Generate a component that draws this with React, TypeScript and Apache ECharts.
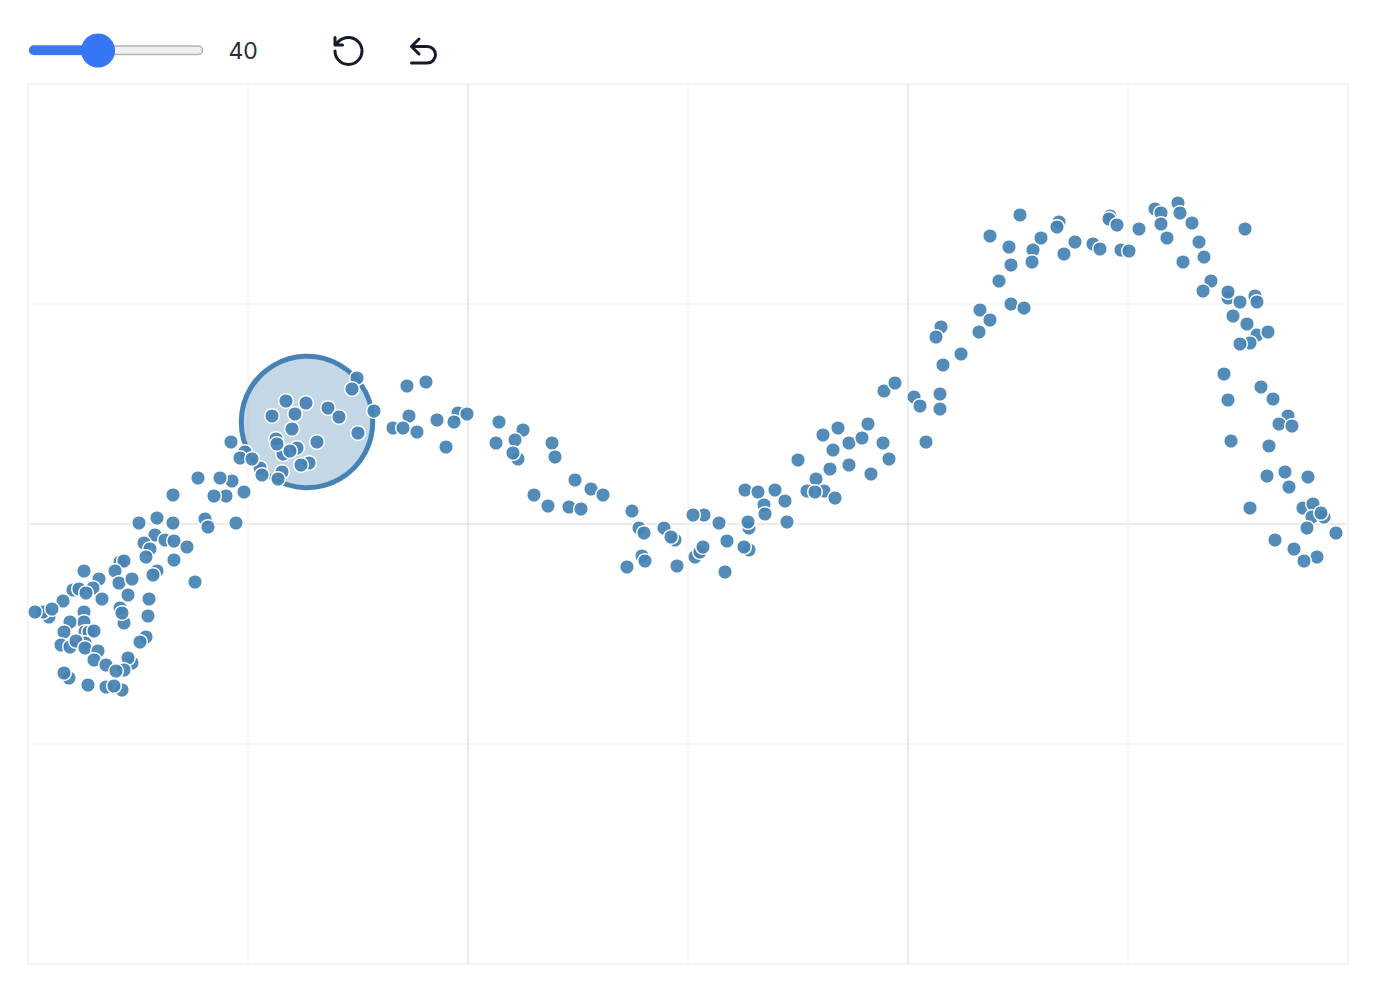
import React, { useEffect, useRef } from "react";
import * as echarts from "echarts";

const lowerLeftCloud = [
  [11.1,0.1],[12.9,0.6],[14.5,0.1],[17.7,0.5],[18.0,-0.3],[20.8,0.1],[12.7,-1.1],[11.6,-1.9],[12.2,-2.5],[11.8,-3.3],
  [13.7,-1.6],[14.6,-1.7],[15.9,-2.3],[14.6,-3.6],[16.7,-5.8],[9.2,-3.8],[9.6,-3.7],[8.7,-4.7],[12.9,-4.7],[12.5,-5.1],
  [5.6,-4.7],[7.1,-5.5],[9.1,-5.9],[10.4,-5.5],[6.5,-6.4],[4.5,-6.6],[5.1,-6.5],[5.8,-6.9],[3.5,-7.7],[7.4,-7.5],
  [10.0,-7.1],[12.1,-7.5],[2.1,-9.3],[1.5,-8.8],[0.7,-8.8],[2.4,-8.5],[5.6,-8.8],[5.6,-9.8],[4.2,-9.8],[9.2,-8.4],
  [9.6,-9.9],[9.4,-8.9],[12.0,-9.2],[3.6,-10.8],[5.7,-10.8],[6.1,-10.8],[6.6,-10.7],[11.8,-11.3],[11.2,-11.8],[3.3,-12.1],
  [4.2,-12.3],[5.7,-11.9],[4.8,-11.7],[5.7,-12.4],[7.0,-12.7],[6.6,-13.6],[7.8,-14.1],[10.4,-13.9],[10.0,-13.4],[9.6,-14.6],
  [8.8,-14.7],[4.1,-15.4],[3.6,-14.9],[6.0,-16.1],[7.8,-16.3],[9.4,-16.6],[8.6,-16.2],
];
const brushedRegion = [
  [32.9,14.6],[32.4,13.5],[34.6,11.3],[25.8,12.3],[27.8,12.1],[30.0,11.6],[31.1,10.7],[24.4,10.8],[26.7,11.0],[33.0,9.1],
  [26.4,9.5],[28.9,8.2],[24.8,8.5],[25.5,7.0],[26.9,7.6],[24.9,8.0],[26.2,7.3],[25.4,5.2],[25.0,4.5],[28.1,6.1],[27.3,5.9],
  [23.2,5.6],[23.4,4.9],[20.3,8.2],[21.7,7.2],[21.2,6.6],[22.4,6.5],[20.4,4.3],[19.2,4.6],[21.6,3.2],[19.8,2.8],
  [18.6,2.8],[17.0,4.6],[14.5,2.9],
];
const firstDescent = [
  [37.9,13.8],[39.8,14.2],[38.1,10.8],[36.5,9.6],[37.5,9.6],[38.9,9.2],[40.9,10.4],[43.0,11.1],[42.6,10.2],[43.9,11.0],
  [41.8,7.7],[47.1,10.2],[49.5,9.4],[48.7,8.4],[46.8,8.1],[49.0,6.5],[48.5,7.1],[52.4,8.1],[52.7,6.7],[54.7,4.4],
  [56.3,3.5],[57.5,2.9],[50.6,2.9],[52.0,1.8],[54.1,1.7],[55.3,1.5],
];
const valley = [
  [60.4,1.3],[61.1,-0.4],[61.6,-0.9],[63.6,-0.4],[64.7,-1.6],[64.3,-1.3],[67.6,0.9],[66.5,0.9],[69.1,0.1],[69.9,-1.7],
  [72.1,-0.4],[72.0,0.2],[72.1,-2.6],[71.6,-2.3],[69.7,-4.8],[66.7,-3.3],[67.2,-2.8],[67.5,-2.3],[61.4,-3.2],[61.7,-3.7],
  [59.9,-4.3],[64.9,-4.2],[71.7,3.4],[73.0,3.2],[74.7,3.4],[75.7,2.3],[73.6,1.9],[73.7,1.0],[75.9,0.2],
];
const ascent = [
  [77.0,6.4],[80.5,7.4],[80.2,5.5],[82.1,5.9],[82.1,8.1],[78.8,4.5],[77.9,3.3],[79.6,3.3],[78.7,3.2],[80.7,2.6],
  [79.5,8.9],[81.0,9.6],[83.4,8.6],[84.0,10.0],[85.5,8.1],[86.1,6.5],[84.3,5.0],[85.6,13.3],[86.7,14.1],[88.6,12.7],
  [89.2,11.8],[91.2,13.0],[91.2,11.5],[89.8,8.2],[91.5,15.9],[93.3,17.0],[91.3,19.7],[90.8,18.7],[95.1,19.2],[95.2,21.4],
  [96.2,20.4],[98.3,22.0],[99.6,21.6],
];
const peak = [
  [99.2,30.9],[96.2,28.8],[98.1,27.7],[98.3,25.9],[97.1,24.3],[100.5,27.4],[100.4,26.2],[101.3,28.6],[103.1,30.2],[102.9,29.7],
  [103.6,27.0],[104.7,28.2],[106.5,28.0],[107.2,27.5],[108.2,30.8],[108.1,30.5],[108.9,29.9],[109.3,27.4],[110.1,27.3],[111.1,29.5],
  [112.7,31.5],[113.3,31.1],[113.3,30.0],[115.0,32.1],[115.2,31.1],[113.9,28.6],[116.4,30.1],[117.1,28.2],[117.6,26.7],[115.5,26.2],
  [121.7,29.5],[118.3,24.3],[117.5,23.3],[120.0,22.6],[120.0,23.2],[121.2,22.2],[122.7,22.8],[122.9,22.2],[120.5,20.8],
];
const finalDescent = [
  [121.9,20.0],[122.9,18.9],[124.0,19.2],[122.2,18.1],[121.2,18.0],[119.6,15.0],[123.3,13.7],[124.5,12.5],[120.0,12.4],[126.0,10.8],
  [125.1,10.0],[126.4,9.8],[120.3,8.3],[124.1,7.8],[125.7,5.2],[123.9,4.8],[128.0,4.7],[126.1,3.7],[122.2,1.6],[127.5,1.6],
  [128.5,2.0],[128.4,0.7],[129.6,0.7],[129.3,1.1],[127.9,-0.4],[130.8,-0.9],[124.7,-1.6],[126.6,-2.5],[128.9,-3.3],[127.6,-3.7],
];
const brushCenter = [[27.9, 10.2]];
const sliderLabel = "40";

echarts.graphic.registerShape(
  "rotateIcon",
  echarts.graphic.extendPath("M3 12a9 9 0 1 0 9-9 9.75 9.75 0 0 0-6.74 2.74L3 8M3 3v5h5", {})
);
echarts.graphic.registerShape(
  "undoIcon",
  echarts.graphic.extendPath("M9 14 4 9l5-5M4 9h10.5a5.5 5.5 0 0 1 5.5 5.5a5.5 5.5 0 0 1-5.5 5.5H4", {})
);

const BORDER = "#f0f0f0";
const MAJOR = "#e4e4e4";
const MINOR = "#f5f5f5";
const iconStyle = { fill: "none", stroke: "#171a2b", lineWidth: 2, lineCap: "round", lineJoin: "round" };

export default function App() {
  const ref = useRef<HTMLDivElement>(null);
  useEffect(() => {
    const chart = echarts.init(ref.current!, null, { renderer: "svg" });
    chart.setOption({
      animation: false,
      backgroundColor: "#ffffff",
      grid: { left: 28, right: 30, top: 84, bottom: 32 },
      xAxis: {
        type: "value", min: 0, max: 132, interval: 22,
        axisLine: { show: false }, axisTick: { show: false }, axisLabel: { show: false },
        splitLine: { show: true, lineStyle: { color: [BORDER, MINOR, MAJOR, MINOR, MAJOR, MINOR, BORDER], width: 1.5 } },
      },
      yAxis: {
        type: "value", min: -44, max: 44, interval: 22,
        axisLine: { show: false }, axisTick: { show: false }, axisLabel: { show: false },
        splitLine: { show: true, lineStyle: { color: [BORDER, MINOR, MAJOR, MINOR, BORDER], width: 1.5 } },
      },
      series: [
        {
          type: "scatter", data: brushCenter, symbolSize: 131.5, silent: true, z: 1,
          itemStyle: { color: "rgba(70,130,180,0.32)", borderColor: "#4682b4", borderWidth: 5, opacity: 1 },
        },
        {
          type: "scatter", symbolSize: 14.5, clip: false, z: 2,
          data: [...lowerLeftCloud, ...brushedRegion, ...firstDescent, ...valley, ...ascent, ...peak, ...finalDescent],
          itemStyle: { color: "rgba(70,130,180,0.93)", borderColor: "#ffffff", borderWidth: 1.5, opacity: 1 },
        },
      ],
      graphic: [
        { type: "rect", shape: { x: 29.5, y: 46, width: 173, height: 8.5, r: 4.25 }, style: { fill: "#efefef", stroke: "#b4b4b4", lineWidth: 1.5 } },
        { type: "rect", shape: { x: 29, y: 45.5, width: 72, height: 9.5, r: 4.75 }, style: { fill: "#3b77ea" } },
        { type: "circle", shape: { cx: 98, cy: 50.5, r: 17 }, style: { fill: "#3676f5" } },
        { type: "text", x: 228.5, y: 51, style: { text: sliderLabel, fontFamily: "Inter", fontSize: 23, fill: "#2a2d3a", textVerticalAlign: "middle", textAlign: "left" } },
        { type: "rotateIcon", x: 330.5, y: 33, scaleX: 1.5, scaleY: 1.5, style: iconStyle },
        { type: "undoIcon", x: 405.5, y: 33, scaleX: 1.5, scaleY: 1.5, style: iconStyle },
      ],
    });
    return () => chart.dispose();
  }, []);
  return <div ref={ref} style={{ position: "absolute", left: 0, top: 0, width: 1378, height: 996 }} />;
}
